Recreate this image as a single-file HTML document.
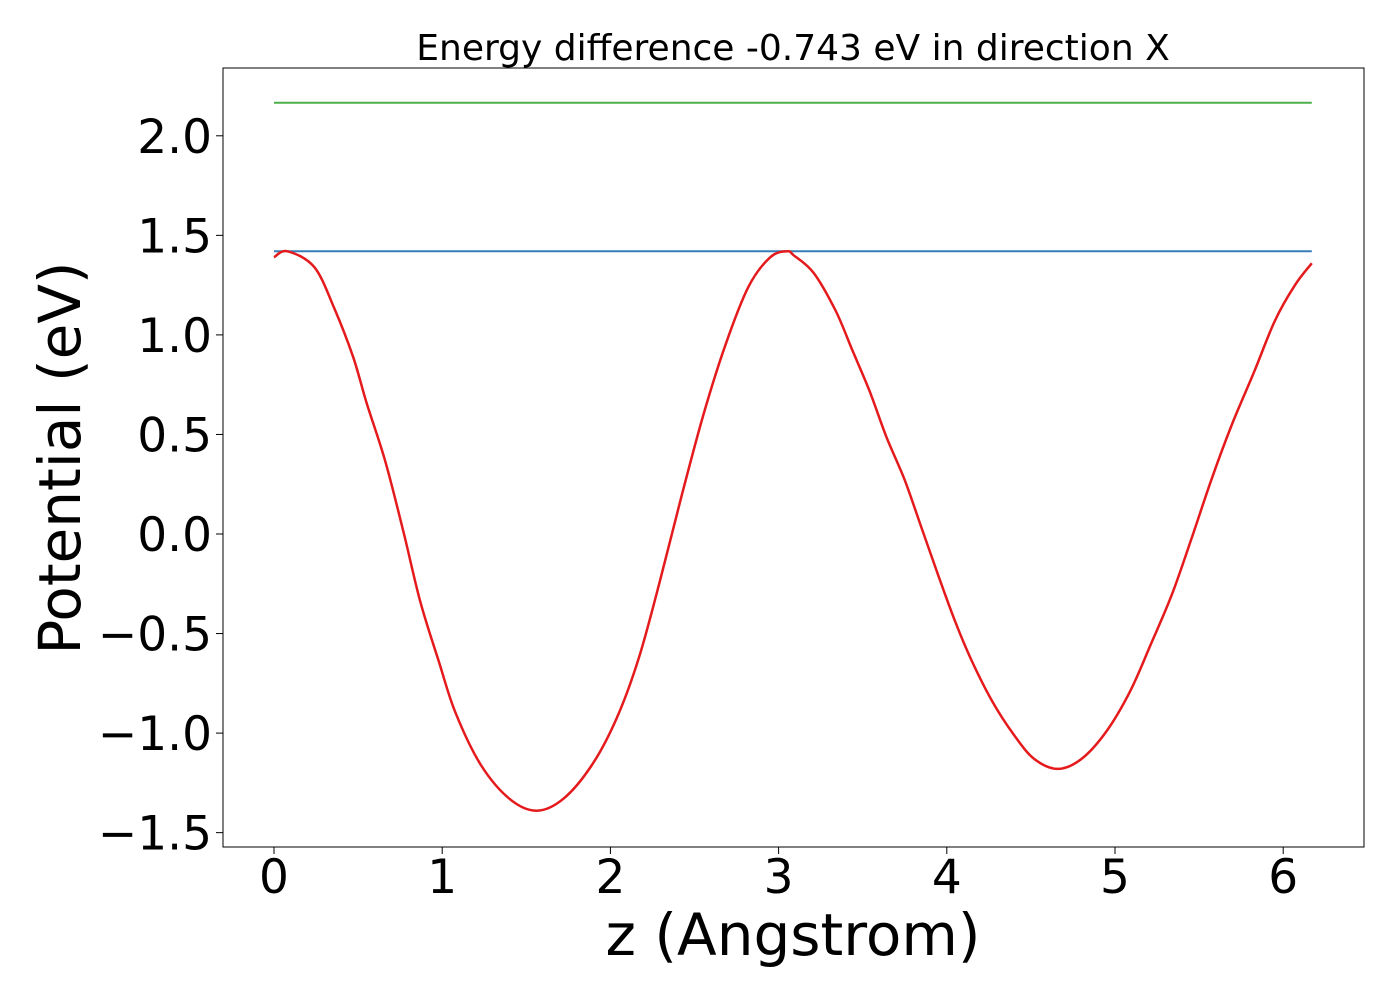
<!DOCTYPE html>
<html><head><meta charset="utf-8"><style>body{margin:0;background:#fff}svg{display:block}text{font-family:"DejaVu Sans","Liberation Sans",sans-serif;fill:#000}</style></head>
<body>
<svg id="chart" width="1400" height="1000">
<rect x="0" y="0" width="1400" height="1000" fill="#fff"/>
<g id="plot"></g>
</svg>
<script>
const zValues = [0,0.08,0.24,0.36,0.47,0.55,0.66,0.77,0.87,0.98,1.08,1.23,1.40,1.56,1.72,1.89,2.04,2.17,2.29,2.42,2.55,2.68,2.82,2.95,3.05,3.09,3.21,3.34,3.44,3.54,3.64,3.75,3.85,3.95,4.05,4.15,4.27,4.40,4.52,4.66,4.80,4.95,5.09,5.21,5.34,5.46,5.58,5.70,5.83,5.95,6.07,6.17];
const potentialValues = [1.39,1.42,1.34,1.13,0.89,0.66,0.37,0.01,-0.34,-0.64,-0.90,-1.16,-1.33,-1.39,-1.33,-1.16,-0.92,-0.62,-0.25,0.18,0.59,0.94,1.24,1.39,1.42,1.40,1.31,1.12,0.92,0.72,0.49,0.27,0.03,-0.21,-0.44,-0.64,-0.84,-1.01,-1.13,-1.18,-1.13,-0.99,-0.79,-0.56,-0.30,-0.01,0.29,0.56,0.82,1.07,1.25,1.36];
const blueLevel = [1.42];
const greenLevel = [2.166];
const lineRange = [0, 6.17];
const xTicks = [0,1,2,3,4,5,6];
const xTickLabels = ["0","1","2","3","4","5","6"];
const yTicks = [2.0,1.5,1.0,0.5,0.0,-0.5,-1.0,-1.5];
const yTickLabels = ["2.0","1.5","1.0","0.5","0.0","\u22120.5","\u22121.0","\u22121.5"];

const L=223,R=1364,T=68,B=847;
const X=v=>274+v*168.2;
const Y=v=>534-v*199.1;
const NS="http://www.w3.org/2000/svg";
const g=document.getElementById('plot');
function mk(tag,attrs,parent){const e=document.createElementNS(NS,tag);for(const k in attrs)e.setAttribute(k,attrs[k]);(parent||g).appendChild(e);return e;}

let e=mk('line',{x1:X(lineRange[0]),x2:X(lineRange[1]),y1:Y(greenLevel[0]),y2:Y(greenLevel[0]),stroke:'#4daf4a','stroke-width':2});


e=mk('line',{x1:X(lineRange[0]),x2:X(lineRange[1]),y1:Y(blueLevel[0]),y2:Y(blueLevel[0]),stroke:'#377eb8','stroke-width':2});


// smooth curve (Catmull-Rom) through data points
const P=zValues.map((z,i)=>[X(z),Y(potentialValues[i])]);
let d='M'+P[0][0].toFixed(1)+','+P[0][1].toFixed(1);
for(let i=0;i<P.length-1;i++){
  const p0=P[Math.max(i-1,0)],p1=P[i],p2=P[i+1],p3=P[Math.min(i+2,P.length-1)];
  const c1=[p1[0]+(p2[0]-p0[0])/6,p1[1]+(p2[1]-p0[1])/6];
  const c2=[p2[0]-(p3[0]-p1[0])/6,p2[1]-(p3[1]-p1[1])/6];
  d+=' C'+c1[0].toFixed(1)+','+c1[1].toFixed(1)+' '+c2[0].toFixed(1)+','+c2[1].toFixed(1)+' '+p2[0].toFixed(1)+','+p2[1].toFixed(1);
}
e=mk('path',{d:d,fill:'none',stroke:'#e41a1c','stroke-width':2.5,'stroke-linejoin':'round'});



e=mk('rect',{x:L,y:T,width:R-L,height:B-T,fill:'none',stroke:'#000','stroke-width':1});



xTicks.forEach((v,i)=>{
  const t=mk('line',{x1:X(v),x2:X(v),y1:B,y2:B+7,stroke:'#000','stroke-width':1});
  
  
  const l=mk('text',{x:X(v),y:893,'text-anchor':'middle','font-size':47});
  l.textContent=xTickLabels[i];
  
  
});
yTicks.forEach((v,i)=>{
  const t=mk('line',{x1:L-7,x2:L,y1:Y(v),y2:Y(v),stroke:'#000','stroke-width':1});
  
  
  const l=mk('text',{x:L-11,y:Y(v)+17,'text-anchor':'end','font-size':47});
  l.textContent=yTickLabels[i];
  
  
});
e=mk('text',{x:793,y:60,'text-anchor':'middle','font-size':36});
e.textContent='Energy difference -0.743 eV in direction X';


e=mk('text',{x:793,y:955,'text-anchor':'middle','font-size':58});
e.textContent='z (Angstrom)';


e=mk('text',{x:0,y:0,'text-anchor':'middle','font-size':58,transform:'translate(80,458) rotate(-90)'});
e.textContent='Potential (eV)';


</script>
</body></html>
